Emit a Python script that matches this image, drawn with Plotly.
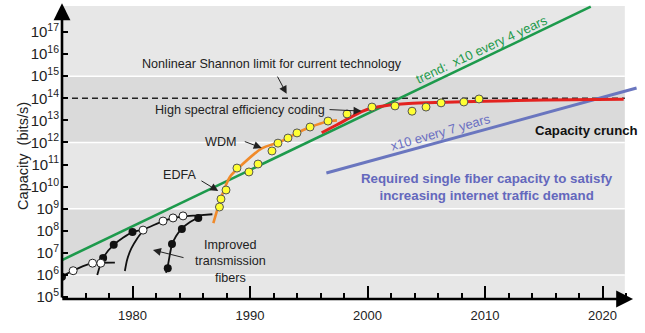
import math
import plotly.graph_objects as go

FONT = "Liberation Sans, Arial, sans-serif"

# ---------------- data (year, capacity in bit/s) ----------------
trend_years = [1974.0, 2019.0]            # x10 every ~4 years
trend_cap = [4.7e6, 1.41e18]

demand_years = [1996.5, 2022.9]           # x10 every ~7 years
demand_cap = [4.1e10, 2.9e14]

shannon_years = [1974.0, 2021.9]          # nonlinear Shannon limit
shannon_cap = [1e14, 1e14]

# early single-channel systems
sys_a_years = [1974.0, 1974.95, 1975.8, 1976.6, 1977.3, 1978.5]
sys_a_cap = [8.9e5, 1.55e6, 2.5e6, 3.3e6, 3.55e6, 3.6e6]
sys_b_years = [1977.0, 1977.5, 1978.4, 1980.0, 1980.9, 1982.6, 1983.45, 1984.3, 1985.6, 1986.8]
sys_b_cap = [1.0e6, 5.9e6, 2.3e7, 8.7e7, 1.12e8, 2.75e8, 3.7e8, 4.5e8, 5.0e8, 5.6e8]
sys_c_years = [1979.35, 1979.55, 1979.9, 1980.4, 1980.9]
sys_c_cap = [1.5e6, 5.0e6, 1.58e7, 4.5e7, 1.0e8]
sys_d_years = [1982.85, 1983.0, 1983.35, 1983.7, 1984.2, 1984.9, 1985.6]
sys_d_cap = [1.26e6, 2.5e6, 2.24e7, 5.6e7, 1.26e8, 2.5e8, 4.0e8]

filled_years = [1974.0, 1977.5, 1978.4, 1980.0, 1983.0, 1983.36, 1984.2, 1985.6]
filled_cap = [8.3e5, 5.9e6, 2.3e7, 8.7e7, 2.0e6, 2.5e7, 1.2e8, 3.8e8]
open_years = [1974.95, 1976.6, 1977.3, 1980.9, 1982.6, 1983.45, 1984.3]
open_cap = [1.55e6, 3.4e6, 3.4e6, 1.07e8, 2.75e8, 3.8e8, 4.7e8]

# EDFA / WDM era
wdm_years = [1986.88, 1987.3, 1987.73, 1988.3, 1989.29, 1991.0, 1992.36,
             1993.26, 1994.03, 1995.1, 1996.67, 1997.4]
wdm_cap = [2.2e8, 1.23e9, 5.9e9, 2.8e10, 9.5e10, 5.4e11, 9.8e11,
           1.62e12, 2.75e12, 4.9e12, 9.1e12, 1.0e13]

# high spectral efficiency coding
sec_years = [1996.1, 1997.4, 1998.5, 1999.5, 2000.5, 2001.5, 2003.5,
             2006.0, 2010.0, 2015.0, 2021.8]
sec_cap = [2.75e12, 6.3e12, 1.32e13, 2.5e13, 3.7e13, 4.6e13, 5.75e13,
           6.5e13, 7.4e13, 8.3e13, 9.1e13]

# laboratory records
record_years = [1987.4, 1987.53, 1987.96, 1988.89, 1989.91, 1990.68, 1991.87,
                1992.38, 1993.23, 1994.0, 1995.11, 1996.64, 1998.26, 2000.38,
                2002.34, 2003.79, 2004.98, 2006.26, 2008.2, 2009.49]
record_cap = [1.19e9, 2.74e9, 7.0e9, 6.9e10, 4.6e10, 1.05e11, 4.1e11,
              9.3e11, 1.58e12, 2.7e12, 5.0e12, 9.3e12, 1.95e13, 4.0e13,
              4.5e13, 2.6e13, 4.0e13, 6.2e13, 6.8e13, 9.3e13]

x_ticks = [1980, 1990, 2000, 2010, 2020]
y_exponents = list(range(5, 18))
band_edges = [1e6, 1e9, 1e12, 1e15]

# ---------------- layout geometry ----------------
X_RANGE = [1974.0, 2023.19]
Y_RANGE = [4.909, 18.315]          # log10 units
BAND_RIGHT = 2021.9
BAND_TOP = 18.18


def ypaper(logv):
    return (logv - Y_RANGE[0]) / (Y_RANGE[1] - Y_RANGE[0])


fig = go.Figure()

# ---------------- background bands ----------------
shapes = []
edges_log = [Y_RANGE[0]] + [math.log10(v) for v in band_edges] + [BAND_TOP]
band_cols = ["#e7e7e7", "#dadada"]
for i in range(len(edges_log) - 1):
    shapes.append(dict(type="rect", xref="x", yref="paper", x0=X_RANGE[0], x1=BAND_RIGHT,
                       y0=ypaper(edges_log[i]), y1=ypaper(edges_log[i + 1]),
                       fillcolor=band_cols[i % 2], line=dict(width=0), layer="below"))
for v in band_edges:
    shapes.append(dict(type="line", xref="x", yref="paper", x0=X_RANGE[0], x1=BAND_RIGHT,
                       y0=ypaper(math.log10(v)), y1=ypaper(math.log10(v)),
                       line=dict(color="white", width=1.5), layer="below"))


def line(x, y, color, width, shape="linear", dash=None):
    fig.add_trace(go.Scatter(x=x, y=y, mode="lines",
                             line=dict(color=color, width=width, shape=shape,
                                       smoothing=0.8, dash=dash),
                             hoverinfo="skip", showlegend=False))


line(shannon_years, shannon_cap, "#222222", 1.3, dash="6px,4px")
line(trend_years, trend_cap, "#1d9a4c", 2.6)
line(demand_years, demand_cap, "#6a76bf", 3)
for xs, ys in [(sys_a_years, sys_a_cap), (sys_b_years, sys_b_cap),
               (sys_c_years, sys_c_cap), (sys_d_years, sys_d_cap)]:
    line(xs, ys, "#111111", 1.8, shape="spline")
line(wdm_years, wdm_cap, "#f08a2a", 2.6, shape="spline")
line(sec_years, sec_cap, "#e3221f", 3, shape="spline")

fig.add_trace(go.Scatter(x=filled_years, y=filled_cap, mode="markers",
                         marker=dict(size=8, color="#111111", line=dict(width=0)),
                         hoverinfo="skip", showlegend=False))
fig.add_trace(go.Scatter(x=open_years, y=open_cap, mode="markers",
                         marker=dict(size=8, color="white", line=dict(width=1, color="#222222")),
                         hoverinfo="skip", showlegend=False))
fig.add_trace(go.Scatter(x=record_years, y=record_cap, mode="markers",
                         marker=dict(size=8, color="#ffff33", line=dict(width=1, color="#555555")),
                         hoverinfo="skip", showlegend=False))

# ---------------- annotations ----------------
ann = []


def text(x, y, s, size=12.6, color="#222222", angle=0, bold=False):
    if bold:
        s = "<b>" + s + "</b>"
    ann.append(dict(x=x, y=y, xref="x", yref="y", text=s, showarrow=False,
                    textangle=angle, font=dict(family=FONT, size=size, color=color)))


def arrow(x0, y0, x1, y1, width=1, size=1.6, head=2, color="#222222"):
    ann.append(dict(x=x1, y=y1, ax=x0, ay=y0, xref="x", yref="y", axref="x", ayref="y",
                    text="", showarrow=True, arrowhead=head, arrowsize=size,
                    arrowwidth=width, arrowcolor=color, standoff=0, startstandoff=0))


text(1991.87, 15.55, "Nonlinear Shannon limit for current technology")
arrow(1992.27, 15.05, 1993.12, 14.2)
text(1989.15, 13.47, "High spectral efficiency coding")
arrow(1996.64, 13.49, 1999.49, 13.42)
text(1987.53, 12.02, "WDM")
arrow(1989.43, 12.065, 1991.0, 11.75)
text(1983.96, 10.52, "EDFA")
arrow(1985.74, 10.3, 1987.3, 9.8)
text(1988.3, 6.585, "Improved<br>transmission<br>fibers")
arrow(1984.47, 6.766, 1981.74, 7.13)
text(2009.72, 16.19, "trend:\u00a0 x10 every 4 years", size=13, color="#1d9a4c", angle=-25)
text(2006.17, 12.47, "x10 every 7 years", size=13, color="#6a6fc2", angle=-16)
text(2018.65, 12.56, "Capacity crunch", size=13.2, color="#111111", bold=True)
text(2010.14, 9.96, "Required single fiber capacity to satisfy<br>increasing internet traffic demand",
     size=13.3, color="#6468bd", bold=True)

# axis lines with arrow heads
arrow(X_RANGE[0], Y_RANGE[0], X_RANGE[0], 18.3, width=2.6, size=1.3, head=2, color="#000000")
arrow(X_RANGE[0] - 0.1, Y_RANGE[0], 2022.6, Y_RANGE[0], width=2.6, size=1.3, head=2, color="#000000")

# y axis title
ann.append(dict(x=-0.085, y=0.483, xref="paper", yref="paper", showarrow=False,
                text="Capacity\u00a0 (bits/s)", textangle=-90,
                font=dict(family=FONT, size=14.5, color="#222222")))

fig.update_layout(
    width=645, height=333,
    margin=dict(l=62, r=5, t=3, b=34),
    paper_bgcolor="white", plot_bgcolor="white",
    showlegend=False,
    shapes=shapes, annotations=ann,
    font=dict(family=FONT, size=13, color="#222222"),
    xaxis=dict(range=X_RANGE, showgrid=False, zeroline=False, showline=False,
               tickvals=x_ticks, ticks="inside", ticklen=13, tickwidth=2, tickcolor="#000000",
               ticklabelstandoff=7,
               tickfont=dict(family=FONT, size=13, color="#222222"),
               minor=dict(dtick=2, tick0=1974, ticks="inside", ticklen=6, tickwidth=2,
                          tickcolor="#000000", showgrid=False)),
    yaxis=dict(type="log", range=Y_RANGE, showgrid=False, zeroline=False, showline=False,
               tickvals=[10 ** e for e in y_exponents],
               ticktext=["10<sup>%d</sup>" % e for e in y_exponents],
               ticks="inside", ticklen=6, tickwidth=2, tickcolor="#000000",
               ticklabelstandoff=2,
               tickfont=dict(family=FONT, size=15, color="#222222")),
)

fig.write_html("out.html")
